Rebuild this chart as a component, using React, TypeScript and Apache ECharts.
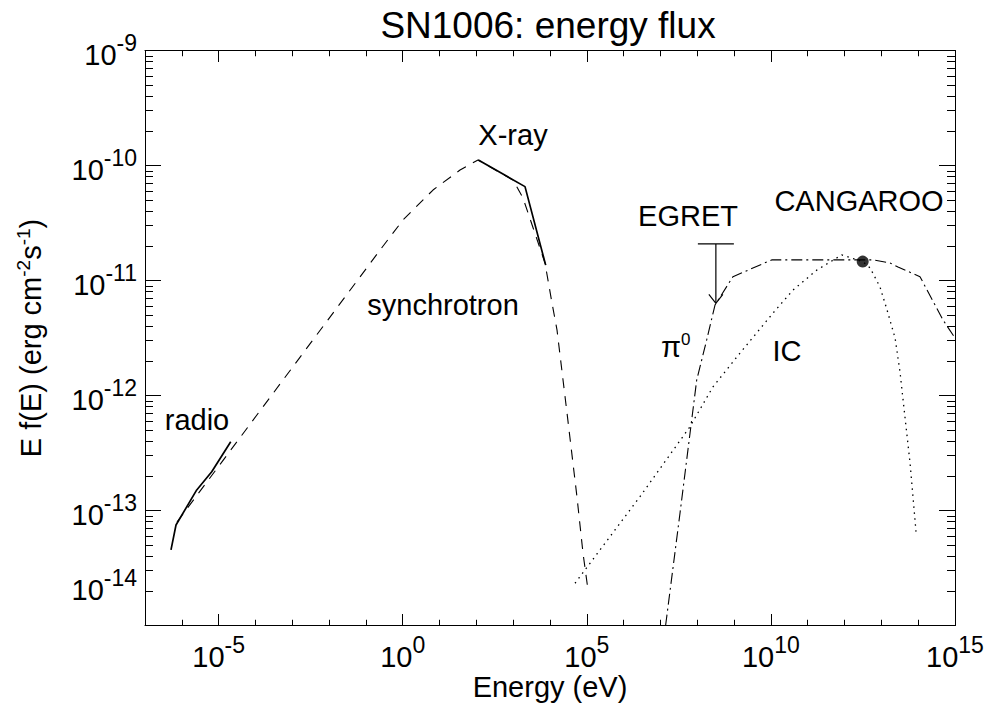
import React, { useEffect, useRef } from "react";
import * as echarts from "echarts";

const FONT = "'Liberation Sans', Arial, Helvetica, sans-serif";
const BLACK = "#000";

// Axis decades (exponents of 10)
const xMajorExp = [-5, 0, 5, 10, 15];
const xMinorExp = [-7, -6, -4, -3, -2, -1, 1, 2, 3, 4, 6, 7, 8, 9, 11, 12, 13, 14];
const yMajorExp = [-14, -13, -12, -11, -10, -9];
const yMinorFactors = [2, 3, 4, 5, 6, 7, 8, 9];

// Radio measurements (solid)
const radioE = [5.08e-7, 6.95e-7, 2.54e-6, 6.49e-6, 2.13e-5];
const radioF = [4.54e-14, 7.48e-14, 1.51e-13, 2.17e-13, 3.96e-13];

// Synchrotron model (dashed)
const synchE = [7.4e-7, 0.242, 1.016, 6.64, 36.0, 111, 989, 1849, 7311, 11324, 15488, 28973, 54075, 78705, 107647];
const synchF = [7.94e-14, 1.84e-11, 3.36e-11, 6.12e-11, 9.14e-11, 1.117e-10, 7.48e-11, 5.21e-11, 1.42e-11, 6.37e-12, 3.72e-12, 7.05e-13, 1.31e-13, 4.27e-14, 2.04e-14];

// X-ray measurements (solid)
const xrayE = [113, 2094, 7638];
const xrayF = [1.117e-10, 6.55e-11, 1.36e-11];

// pi0 decay model (dash-dot)
const pi0E = [1.38e7, 3.4e7, 6.37e7, 9.64e7, 1.8e8, 3.03e8, 9.33e8, 1.05e10, 5.93e12, 1.72e13, 2.83e13, 1.12e14, 4.72e14, 1e15];
const pi0F = [1e-14, 9.51e-14, 4.72e-13, 1.36e-12, 3.04e-12, 6.12e-12, 1.08e-11, 1.51e-11, 1.51e-11, 1.42e-11, 1.31e-11, 1.08e-11, 4.54e-12, 3.16e-12];

// Inverse Compton model (dotted)
const icE = [4.78e4, 2.78e6, 6.34e7, 2.67e8, 1.45e9, 1.14e10, 3.98e10, 1.75e11, 8.38e11, 3.11e12, 4.92e12, 9.2e12, 1.43e13, 2.36e13, 3.21e13, 6.01e13, 8.73e13];
const icF = [2.33e-14, 1.32e-13, 5.36e-13, 1.19e-12, 2.34e-12, 5.21e-12, 8.26e-12, 1.23e-11, 1.67e-11, 1.46e-11, 1.29e-11, 8.77e-12, 5.53e-12, 3.16e-12, 1.6e-12, 2.59e-13, 6.55e-14];

// EGRET upper limit (value, arrow end)
const egretE = [3.2e8];
const egretF = [2.08e-11];
const egretArrowF = [6.34e-12];

// CANGAROO point
const cangE = [3.11e12];
const cangF = [1.46e-11];

const pair = (xs: number[], ys: number[]) => xs.map((x, i) => [x, ys[i]]);

export default function App() {
  const ref = useRef<HTMLDivElement>(null);

  useEffect(() => {
    document.body.style.margin = "0";
    const chart = echarts.init(ref.current!, null, { renderer: "svg" });

    const yMinorExp: number[] = [];
    yMajorExp.slice(0, -1).forEach((d) => yMinorFactors.forEach((k) => yMinorExp.push(d + Math.log10(k))));

    const tickRich = {
      b: { fontSize: 29, fontFamily: FONT, color: BLACK, verticalAlign: "bottom" },
      s: { fontSize: 23, fontFamily: FONT, color: BLACK, verticalAlign: "bottom", padding: [0, 0, 15, 0] },
      g: { fontSize: 10, lineHeight: 80 },
    };
    const line = { color: BLACK, width: 1 };
    const off = { show: false };

    const tickAxis = (
      extra: any,
      values: number[],
      len: number,
      labels: boolean,
      showLine: boolean
    ) => ({
      type: "value",
      ...extra,
      axisLine: { show: showLine, onZero: false, lineStyle: line },
      axisTick: { show: true, inside: true, length: len, customValues: values, lineStyle: line },
      axisLabel: labels
        ? {
            show: true,
            customValues: values,
            showMinLabel: true,
            showMaxLabel: true,
            rich: tickRich,
            formatter: (v: number) =>
              v === -14 ? `{b|10}{s|${v}}\n{g| }` : `{b|10}{s|${v}}`,
          }
        : off,
      splitLine: off,
      minorTick: off,
      minorSplitLine: off,
    });

    const option: any = {
      animation: false,
      backgroundColor: "#fff",
      title: {
        text: "SN1006: energy flux",
        left: 543,
        top: 2,
        textAlign: "center",
        textStyle: { fontSize: 37, fontWeight: "normal", fontFamily: FONT, color: BLACK },
      },
      grid: { left: 145, right: 37, top: 50.5, bottom: 78.5, containLabel: false, outerBoundsMode: "none" },
      xAxis: [
        {
          type: "log",
          logBase: 10,
          min: 1e-7,
          max: 1e15,
          position: "bottom",
          axisLine: { show: true, onZero: false, lineStyle: line },
          axisTick: off,
          axisLabel: off,
          splitLine: off,
          name: "Energy (eV)",
          nameLocation: "middle",
          nameGap: 47,
          nameTextStyle: { fontSize: 29, fontFamily: FONT, color: BLACK },
        },
        tickAxis({ min: -7, max: 15, position: "bottom" }, xMajorExp, 11.5, true, false),
        tickAxis({ min: -7, max: 15, position: "bottom" }, xMinorExp, 5.75, false, false),
        tickAxis({ min: -7, max: 15, position: "top" }, xMajorExp, 11.5, false, true),
        tickAxis({ min: -7, max: 15, position: "top" }, xMinorExp, 5.75, false, false),
      ],
      yAxis: [
        {
          type: "log",
          logBase: 10,
          min: 1e-14,
          max: 1e-9,
          position: "left",
          axisLine: { show: true, onZero: false, lineStyle: line },
          axisTick: off,
          axisLabel: off,
          splitLine: off,
          name: "{n|E f(E) (erg cm}{s|-2}{n|s}{s|-1}{n|)}",
          nameLocation: "middle",
          nameGap: 100,
          nameTextStyle: {
            fontSize: 29,
            fontFamily: FONT,
            color: BLACK,
            rich: {
              n: { fontSize: 29, fontFamily: FONT, color: BLACK, verticalAlign: "bottom" },
              s: { fontSize: 19, fontFamily: FONT, color: BLACK, verticalAlign: "bottom", padding: [0, 0, 12, 0] },
            },
          },
        },
        tickAxis({ min: -14, max: -9, position: "left" }, yMajorExp, 16, true, false),
        tickAxis({ min: -14, max: -9, position: "left" }, yMinorExp, 8, false, false),
        tickAxis({ min: -14, max: -9, position: "right" }, yMajorExp, 16, false, true),
        tickAxis({ min: -14, max: -9, position: "right" }, yMinorExp, 8, false, false),
      ],
      series: [
        {
          name: "radio",
          type: "line",
          data: pair(radioE, radioF),
          symbol: "none",
          lineStyle: { color: BLACK, width: 1.7, type: "solid" },
        },
        {
          name: "synchrotron",
          type: "line",
          data: pair(synchE, synchF),
          symbol: "none",
          lineStyle: { color: BLACK, width: 1.1, type: [10, 8] },
        },
        {
          name: "X-ray",
          type: "line",
          data: pair(xrayE, xrayF),
          symbol: "none",
          lineStyle: { color: BLACK, width: 1.7, type: "solid" },
        },
        {
          name: "pi0",
          type: "line",
          data: pair(pi0E, pi0F),
          symbol: "none",
          lineStyle: { color: BLACK, width: 1.1, type: [11, 4, 2, 4] },
        },
        {
          name: "IC",
          type: "line",
          data: pair(icE, icF),
          symbol: "none",
          lineStyle: { color: BLACK, width: 1.3, type: [1.5, 4.5] },
        },
        {
          name: "EGRET",
          type: "custom",
          data: egretE.map((e, i) => [e, egretF[i], egretArrowF[i]]),
          renderItem: (_p: any, api: any) => {
            const top = api.coord([api.value(0), api.value(1)]);
            const tip = api.coord([api.value(0), api.value(2)]);
            const st = { stroke: BLACK, lineWidth: 1.2, fill: "none" };
            return {
              type: "group",
              children: [
                { type: "line", shape: { x1: top[0] - 18, y1: top[1], x2: top[0] + 18, y2: top[1] }, style: st },
                { type: "line", shape: { x1: top[0], y1: top[1], x2: tip[0], y2: tip[1] }, style: st },
                {
                  type: "polyline",
                  shape: { points: [[tip[0] - 7, tip[1] - 9], [tip[0], tip[1]], [tip[0] + 7, tip[1] - 9]] },
                  style: st,
                },
              ],
            };
          },
        },
        {
          name: "CANGAROO",
          type: "scatter",
          data: pair(cangE, cangF),
          symbol: "circle",
          symbolSize: 12,
          itemStyle: { color: BLACK },
        },
      ],
      graphic: [
        ...[
          ["radio", 197, 420],
          ["synchrotron", 443, 305],
          ["X-ray", 513, 135],
          ["EGRET", 688, 216],
          ["CANGAROO", 859, 201],
          ["IC", 787, 351],
        ].map(([text, x, y]) => ({
          type: "text",
          x,
          y,
          style: {
            text,
            fontSize: 29,
            fontFamily: FONT,
            fill: BLACK,
            align: "center",
            verticalAlign: "middle",
          },
        })),
        {
          type: "text",
          x: 661,
          y: 346,
          style: {
            text: "{p|π}{z|0}",
            fill: BLACK,
            align: "left",
            verticalAlign: "middle",
            rich: {
              p: { fontSize: 29, fontFamily: FONT, fill: BLACK, verticalAlign: "bottom" },
              z: { fontSize: 17, fontFamily: FONT, fill: BLACK, verticalAlign: "bottom", padding: [0, 0, 13, 0] },
            },
          },
        },
      ],
    };

    chart.setOption(option);
    return () => chart.dispose();
  }, []);

  return <div ref={ref} style={{ width: 992, height: 704 }} />;
}
